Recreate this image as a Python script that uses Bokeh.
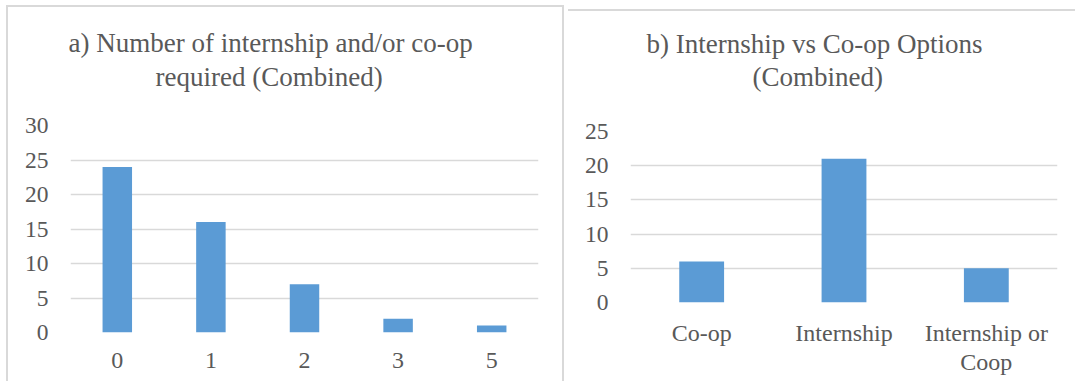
from bokeh.plotting import figure
from bokeh.models import (ColumnDataSource, SingleIntervalTicker, Range1d,
                          FactorRange, Title, CategoricalAxis)
from bokeh.embed import file_html
from bokeh.resources import INLINE

# ---- data ----
a_categories = ["0", "1", "2", "3", "5"]
a_counts = [24, 16, 7, 2, 1]
a_title = ["a) Number of internship and/or co-op", "required (Combined)"]

b_categories = ["Co-op", "Internship", "Internship or Coop"]
b_counts = [6, 21, 5]
b_title = ["b) Internship vs Co-op Options", "(Combined)"]
b_tick_line1 = ["Co-op", "Internship", "Internship or"]
b_tick_line2 = [" ", "  ", "Coop"]

FONT = "Liberation Serif"
TEXT = "#595959"
GRID = "#D9D9D9"
BAR = "#5B9BD5"
BORDER = "2px solid #D9D9D9"


def style_axis(ax, size, standoff):
    ax.axis_line_color = None
    ax.major_tick_line_color = None
    ax.minor_tick_line_color = None
    ax.major_tick_out = 0
    ax.major_tick_in = 0
    ax.minor_tick_out = 0
    ax.major_label_text_font = FONT
    ax.major_label_text_font_size = size
    ax.major_label_text_color = TEXT
    ax.major_label_standoff = standoff


def make(cats, vals, ymax, width, height, frame, xstandoff):
    left, right, top, bottom = frame
    p = figure(x_range=FactorRange(factors=cats, range_padding=0),
               y_range=Range1d(0, ymax), width=width, height=height, title=None,
               output_backend="svg", toolbar_location=None,
               min_border_left=left, min_border_right=right,
               min_border_top=top, min_border_bottom=bottom)
    src = ColumnDataSource(dict(cat=cats, val=vals))
    p.vbar(x="cat", top="val", width=0.315, source=src, fill_color=BAR, line_color=None)
    p.outline_line_color = None
    p.background_fill_color = None
    p.border_fill_color = None
    p.xgrid.grid_line_color = None
    p.ygrid.grid_line_color = GRID
    p.ygrid.grid_line_width = 1.5
    p.yaxis.ticker = SingleIntervalTicker(interval=5, num_minor_ticks=0)
    style_axis(p.xaxis[0], "24px", xstandoff)
    style_axis(p.yaxis[0], "23.5px", 22)
    return p


def title_line(text, offset, standoff, size="27px"):
    return Title(text=text, align="left", offset=offset, standoff=standoff,
                 text_font=FONT, text_font_size=size, text_color=TEXT,
                 text_font_style="normal", vertical_align="bottom")


# ---- chart a ----
p1 = make(a_categories, a_counts, 30, 558, 376, (62, 28, 0, 51), 20)
p1.add_layout(title_line(" ", 0, 30, "1px"), "above")
p1.add_layout(title_line(a_title[1], 85, 2), "above")
p1.add_layout(title_line(a_title[0], -2, 1), "above")
p1.add_layout(title_line(" ", 0, 15, "1px"), "above")
p1.styles = {"position": "absolute", "left": "6px", "top": "5px",
             "border-left": BORDER, "border-top": BORDER, "border-right": BORDER}

# ---- chart b ----
p2 = make(b_categories, b_counts, 25, 507, 368, (62, 18, 0, 77), 17)
p2.extra_x_ranges = {"line1": FactorRange(factors=b_tick_line1, range_padding=0),
                     "line2": FactorRange(factors=b_tick_line2, range_padding=0)}
p2.xaxis[0].x_range_name = "line1"
ax2 = CategoricalAxis(x_range_name="line2")
style_axis(ax2, "24px", 0)
p2.add_layout(ax2, "below")
p2.add_layout(title_line(" ", 0, 37, "1px"), "above")
p2.add_layout(title_line(b_title[1], 122, 0), "above")
p2.add_layout(title_line(b_title[0], 16, 1), "above")
p2.add_layout(title_line(" ", 0, 12, "1px"), "above")
p2.styles = {"position": "absolute", "left": "568px", "top": "9px", "border-top": BORDER}

open("out.html", "w").write(file_html([p1, p2], INLINE))
